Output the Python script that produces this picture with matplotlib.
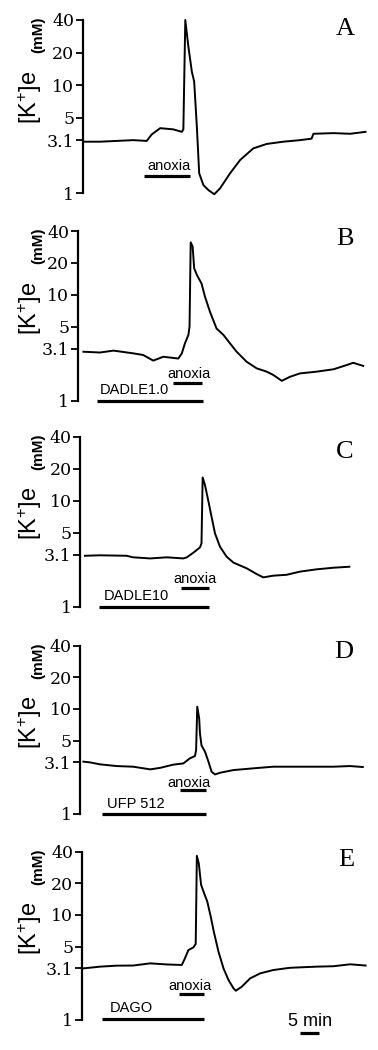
import matplotlib
matplotlib.use("Agg")
import matplotlib.pyplot as plt
from matplotlib import font_manager
import numpy as np

# ---------------- data (time in min, [K+]e in mM) ----------------
panel_letters = ["A", "B", "C", "D", "E"]
ytick_vals = [1, 3.1, 5, 10, 20, 40]
ytick_labels = ["1", "3.1", "5", "10", "20", "40"]

t_A = [0.1, 4.4, 8.7, 13.0, 16.5, 17.8, 20.0, 23.4, 25.6, 26.0, 26.5, 27.3, 28.2, 28.8,
       29.5, 30.1, 31.2, 32.5, 34.0, 35.5, 38.1, 40.7, 44.1, 47.6, 51.9, 56.2, 59.2,
       59.7, 64.9, 69.2, 73.2]
k_A = [3.0, 3.0, 3.05, 3.1, 3.05, 3.5, 4.0, 3.9, 3.7, 3.9, 40.0, 22.7, 13.3, 10.8,
       4.1, 1.53, 1.19, 1.07, 0.98, 1.11, 1.53, 2.03, 2.6, 2.86, 3.0, 3.1, 3.2,
       3.55, 3.6, 3.55, 3.7]

t_B = [0.1, 4.4, 7.9, 13.0, 15.6, 18.2, 20.8, 24.7, 25.6, 26.4, 27.3, 27.6, 27.9,
       28.4, 28.8, 29.5, 30.7, 31.6, 32.9, 34.6, 36.4, 38.1, 39.8, 42.4, 45.0, 47.6,
       49.3, 51.5, 53.6, 56.2, 60.5, 64.9, 68.3, 70.0, 72.6]
k_B = [2.9, 2.85, 2.97, 2.8, 2.7, 2.39, 2.6, 2.5, 2.8, 3.47, 4.17, 5.0, 31.3,
       28.5, 17.8, 15.4, 12.8, 9.6, 6.9, 4.8, 4.17, 3.47, 2.9, 2.33, 2.02, 1.88,
       1.75, 1.54, 1.68, 1.81, 1.88, 1.98, 2.17, 2.28, 2.13]

t_C = [0.5, 4.4, 11.3, 13.0, 17.4, 21.7, 26.0, 26.9, 28.6, 30.3, 30.7, 31.0, 31.6,
       32.5, 33.3, 34.2, 35.5, 37.2, 39.0, 42.4, 45.0, 46.7, 49.3, 52.8, 56.2, 60.5,
       64.9, 69.0]
k_C = [3.02, 3.05, 3.02, 2.92, 2.85, 2.92, 2.85, 2.92, 3.23, 3.62, 3.95, 16.5, 14.0,
       9.8, 7.06, 4.9, 3.67, 2.96, 2.6, 2.3, 2.03, 1.89, 1.96, 2.0, 2.14, 2.25,
       2.33, 2.38]

t_D = [0.1, 1.8, 4.4, 8.7, 13.0, 17.4, 20.0, 23.4, 26.0, 27.7, 29.0, 29.3, 29.6,
       30.1, 30.3, 30.7, 31.6, 32.5, 33.3, 34.2, 35.5, 39.0, 44.1, 49.3, 54.5, 59.7,
       64.9, 69.2, 72.5]
k_D = [3.15, 3.1, 2.97, 2.86, 2.82, 2.66, 2.75, 2.95, 3.03, 3.39, 3.56, 4.06, 10.5,
       8.1, 5.86, 4.5, 3.92, 3.15, 2.53, 2.38, 2.47, 2.62, 2.72, 2.82, 2.82, 2.82,
       2.82, 2.86, 2.8]

t_E = [0.1, 4.4, 8.7, 13.0, 17.4, 21.7, 25.6, 26.4, 27.3, 28.6, 29.2, 29.5, 30.0,
       30.6, 31.4, 32.2, 33.1, 33.9, 35.1, 36.4, 37.7, 39.0, 39.6, 41.1, 43.3, 45.9,
       49.3, 53.6, 60.5, 64.9, 69.2, 73.2]
k_E = [3.1, 3.22, 3.29, 3.3, 3.46, 3.38, 3.34, 3.86, 4.63, 4.91, 5.3, 36.6, 30.9,
       19.3, 16.0, 13.4, 9.6, 6.9, 4.47, 3.1, 2.4, 2.0, 1.9, 2.07, 2.49, 2.78,
       2.99, 3.14, 3.22, 3.25, 3.39, 3.3]

traces_t = [t_A, t_B, t_C, t_D, t_E]
traces_k = [k_A, k_B, k_C, k_D, k_E]

drug_names = [None, "DADLE1.0", "DADLE10", "UFP 512", "DAGO"]
drug_start = [None, 3.7, 4.1, 5.0, 5.0]
drug_end = [None, 31.0, 32.6, 31.8, 31.4]
anoxia_start = [15.8, 23.2, 25.4, 25.0, 24.9]
anoxia_end = [27.7, 30.9, 32.6, 31.8, 31.4]
scale_min = 5

# ---------------- style / layout ----------------
names = {f.name for f in font_manager.fontManager.ttflist}
SANS = "Liberation Sans Narrow" if "Liberation Sans Narrow" in names else "Liberation Sans"
SERIF = "Liberation Serif"
TICKFONT = "DejaVu Serif"
plt.rcParams["mathtext.fontset"] = "custom"
plt.rcParams["mathtext.rm"] = "Liberation Sans"
plt.rcParams["mathtext.it"] = "Liberation Sans"

W, H = 378, 1050
fig = plt.figure(figsize=(W / 100, H / 100), dpi=100)

PX_PER_MIN = 3.86
X0 = 83.0
y40_px = [20, 231, 436.7, 645.7, 851.7]
y1_px = [193.3, 400.7, 606.7, 814, 1020]
spine_px = [82.7, 77.5, 80, 80, 81.5]
YLO, YHI = 0.8, 50

anoxia_bar_y = [1.43, 1.48, 1.49, 1.68, 1.75]
anoxia_txt = [(22.3, 1.80), (27.5, 1.77), (29.0, 1.81), (27.55, 1.99), (27.7, 2.12)]
drug_bar_y = [None, 1.0, 1.0, 1.0, 1.02]
drug_txt = [None, (4.4, 1.26), (5.3, 1.27), (6.3, 1.245), (7.0, 1.29)]
letter_px = [(345, 29), (345, 239), (345, 452), (344, 652), (346, 860)]

for i in range(5):
    dec = (y1_px[i] - y40_px[i]) / np.log10(40)
    top = y40_px[i] - dec * np.log10(YHI / 40)
    bot = y1_px[i] + dec * np.log10(1 / YLO)
    left = spine_px[i]
    ax = fig.add_axes([left / W, 1 - bot / H, (W - left) / W, (bot - top) / H])
    ax.set_yscale("log")
    ax.set_ylim(YLO, YHI)
    ax.set_xlim((left - X0) / PX_PER_MIN, (W - X0) / PX_PER_MIN)
    ax.patch.set_visible(False)
    for s in ["top", "right", "bottom"]:
        ax.spines[s].set_visible(False)
    ax.spines["left"].set_bounds(1, 40)
    ax.spines["left"].set_linewidth(1.6)
    ax.set_xticks([])
    ax.yaxis.set_minor_locator(matplotlib.ticker.NullLocator())
    ax.set_yticks(ytick_vals)
    ax.set_yticklabels(ytick_labels, fontfamily=TICKFONT, fontsize=12.5)
    ax.tick_params(axis="y", length=5, width=1.3, pad=1, direction="out")

    ax.plot(traces_t[i], traces_k[i], color="black", lw=1.4, clip_on=False,
            solid_joinstyle="round")

    ax.plot([anoxia_start[i], anoxia_end[i]], [anoxia_bar_y[i]] * 2, color="black",
            lw=2.3, solid_capstyle="butt", clip_on=False)
    ax.text(anoxia_txt[i][0], anoxia_txt[i][1], "anoxia", ha="center", va="center",
            fontfamily=SANS, fontsize=10.5)
    if drug_names[i] is not None:
        ax.plot([drug_start[i], drug_end[i]], [drug_bar_y[i]] * 2, color="black",
                lw=2.3, solid_capstyle="butt", clip_on=False)
        ax.text(drug_txt[i][0], drug_txt[i][1], drug_names[i], ha="left", va="center",
                fontfamily=SANS, fontsize=10.5)

    fig.text(30 / W, 1 - (y40_px[i] + 77) / H, r"$[\mathrm{K}^{+}]\mathrm{e}$",
             rotation=90, ha="center", va="center", fontsize=17)
    fig.text(38 / W, 1 - (y40_px[i] + 15) / H, "(mM)", rotation=90, ha="center",
             va="center", fontfamily="Liberation Sans", fontweight="bold", fontsize=11)

    fig.text(letter_px[i][0] / W, 1 - letter_px[i][1] / H, panel_letters[i],
             ha="center", va="center", fontfamily=SERIF, fontsize=19)

    if i == 4:
        ax.plot([56.2, 56.2 + scale_min], [0.746, 0.746], color="black", lw=2.3,
                solid_capstyle="butt", clip_on=False)
        ax.text(58.8, 0.96, f"{scale_min} min", ha="center", va="center",
                fontfamily="Liberation Sans", fontsize=13)

fig.savefig("out.png", dpi=100, facecolor="white")
